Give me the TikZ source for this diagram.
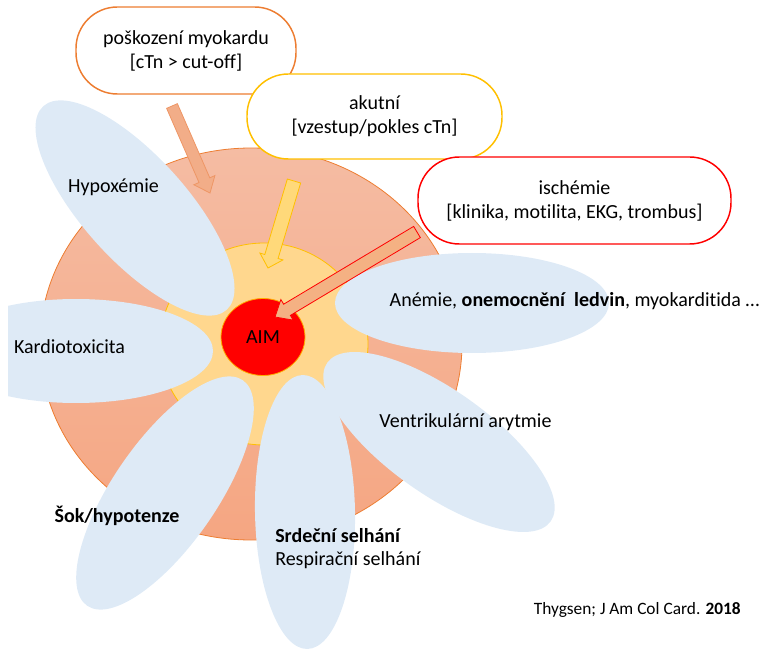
\documentclass[tikz,border=0pt]{standalone}
\usepackage{fontspec}
\setmainfont{Carlito}[Ligatures=NoCommon]
\usetikzlibrary{shapes.geometric,calc}
\definecolor{cOrange}{HTML}{ED7D31}
\definecolor{cYellow}{HTML}{FFC000}
\definecolor{cRed}{HTML}{FF0000}
\definecolor{petalblue}{HTML}{DEEAF6}
\definecolor{salmonTop}{HTML}{F5BCA3}
\definecolor{salmonBot}{HTML}{F5A682}
\definecolor{innerYellow}{HTML}{FFD78E}
\definecolor{arrOrangeFill}{HTML}{F2AD88}
\definecolor{arrOrangeLine}{HTML}{EE9665}
\definecolor{arrYellowFill}{HTML}{FFD97A}
\definecolor{arrRedFill}{HTML}{F4B183}
\newcommand\blockarr[6]{% style, tail, tip, half shaft, half head, head length
  \coordinate (ba) at ($(#3)!#6!(#2)$);
  \draw[#1] ($(#2)!#4!90:(#3)$) -- ($(ba)!#4!90:(#3)$) -- ($(ba)!#5!90:(#3)$) -- (#3)
    -- ($(ba)!#5!-90:(#3)$) -- ($(ba)!#4!-90:(#3)$) -- ($(#2)!#4!-90:(#3)$) -- cycle;}
\begin{document}
\begin{tikzpicture}[x=0.75pt,y=-0.75pt,
  lbl/.style={font=\fontsize{15}{18}\selectfont, inner sep=0pt, text=black},
  petal/.style={ellipse, fill=petalblue, inner sep=0pt, minimum width=205.5pt, minimum height=78pt},
  tbox/.style={rectangle, rounded corners=31pt, fill=white, line width=1.1pt, align=center,
    inner sep=0pt, font=\fontsize{15}{18}\selectfont},
  disc/.style={ellipse, inner sep=0pt}
]
\useasboundingbox (0,0) rectangle (761,649);
% discs
\node[disc, top color=salmonTop, bottom color=salmonBot, draw=cOrange, line width=0.6pt,
  minimum width=316.5pt, minimum height=294pt] (big) at (251,344) {};
\node[disc, fill=innerYellow, draw=cYellow, line width=0.6pt,
  minimum width=156pt, minimum height=151.5pt] (inner) at (264,344) {};
\node[disc, fill=cRed, draw=cYellow!70!orange, line width=0.6pt,
  minimum width=63pt, minimum height=57.75pt, font=\fontsize{15}{18}\selectfont] (aim) at (263,337) {AIM};
% petals
\begin{scope}
\clip (8,0) rectangle (761,649);
\node[petal, rotate=-48] (p1) at (135,208) {};
\node[petal] (p2) at (76,351) {};
\node[petal, rotate=55.4] (p3) at (165,493) {};
\node[petal, rotate=91, minimum height=75pt] (p4) at (305,512) {};
\node[petal, rotate=-35.4] (p5) at (439,442) {};
\node[petal, minimum height=75pt] (p6) at (472,303) {};
\end{scope}
% boxes
\node[tbox, draw=cOrange, minimum width=165pt, minimum height=65.25pt] (b1) at (186,50.5)
  {poškození myokardu\\{}[cTn > cut-off]};
\node[tbox, draw=cYellow, minimum width=191.25pt, minimum height=63.75pt] (b2) at (374.5,116.5)
  {akutní\\{}[vzestup/pokles cTn]};
\node[tbox, draw=cRed, minimum width=234.75pt, minimum height=65.25pt] (b3) at (574.5,200.5)
  {ischémie\\{}[klinika, motilita, EKG, trombus]};
% arrows
\coordinate (a1t) at (172,106); \coordinate (a1h) at (210,193);
\coordinate (a2t) at (294,181); \coordinate (a2h) at (268,268);
\coordinate (a3t) at (417,232); \coordinate (a3h) at (275,317);
\blockarr{fill=arrOrangeFill, draw=arrOrangeLine, line width=0.6pt}{a1t}{a1h}{4.4pt}{8.6pt}{10.5pt}
\blockarr{fill=arrYellowFill, draw=cYellow, line width=0.6pt}{a2t}{a2h}{5.2pt}{9pt}{9pt}
\blockarr{fill=arrRedFill, draw=cRed, line width=0.6pt}{a3t}{a3h}{4.9pt}{9pt}{10.5pt}
% labels
\node[lbl] (tHyp) at (113.5,187) {Hypoxémie};
\node[lbl] (tKar) at (69.5,347) {Kardiotoxicita};
\node[lbl, font=\fontsize{15}{18}\selectfont\bfseries] (tSok) at (117,516) {Šok/hypotenze};
\node[lbl, anchor=west] (tSrd) at (275,536) {\textbf{Srdeční selhání}};
\node[lbl, anchor=west] (tRes) at (275,560) {Respirační selhání};
\node[lbl] (tVen) at (465.5,422) {Ventrikulární arytmie};
\node[lbl] (tAne) at (574.5,301) {Anémie, \textbf{onemocnění\ \ ledvin}, myokarditida …};
\node[lbl, anchor=east, font=\fontsize{13}{16}\selectfont] (tRef) at (741,610) {Thygsen; J Am Col Card. \textbf{2018}};
\end{tikzpicture}
\end{document}
